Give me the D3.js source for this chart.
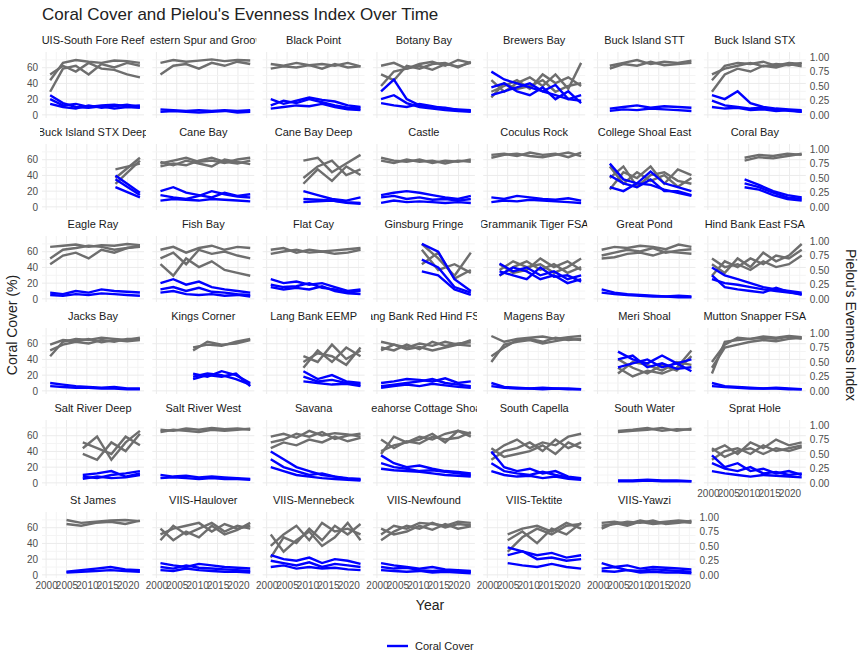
<!DOCTYPE html>
<html><head><meta charset="utf-8">
<script src="https://cdn.jsdelivr.net/npm/d3@7"></script>
<style>body{margin:0;background:#fff;font-family:"Liberation Sans",Arial,sans-serif}</style>
</head><body>
<script>
// Facet names, in panel order
const siteNames = ["UIS-South Fore Reef","Western Spur and Groove","Black Point","Botany Bay","Brewers Bay","Buck Island STT","Buck Island STX",
"Buck Island STX Deep","Cane Bay","Cane Bay Deep","Castle","Coculus Rock","College Shoal East","Coral Bay",
"Eagle Ray","Fish Bay","Flat Cay","Ginsburg Fringe","Grammanik Tiger FSA","Great Pond","Hind Bank East FSA",
"Jacks Bay","Kings Corner","Lang Bank EEMP","Lang Bank Red Hind FSA","Magens Bay","Meri Shoal","Mutton Snapper FSA",
"Salt River Deep","Salt River West","Savana","Seahorse Cottage Shoal","South Capella","South Water","Sprat Hole",
"St James","VIIS-Haulover","VIIS-Mennebeck","VIIS-Newfound","VIIS-Tektite","VIIS-Yawzi"];
const startYears = [2001,2001,2001,2001,2001,2003,2001, 2017,2001,2009,2001,2001,2003,2009,
2001,2001,2001,2011,2003,2001,2001, 2001,2009,2009,2001,2001,2005,2001,
2009,2001,2001,2001,2001,2005,2001, 2005,2001,2001,2001,2005,2001];
// Coral cover (%) per transect, spread evenly from start year to 2023
const coralSeries = [
["20 12 14 10 12 13 11 12","14 10 8 12 9 11 13 10","25 15 10 9 11 8 10 9"],
["7 6 5 6 5 6 5 6","4 5 4 3 4 5 3 4"],
["20 14 18 22 19 17 12 10","12 18 15 20 16 12 9 8","8 10 12 11 14 10 7 6"],
["30 45 20 12 10 9 6 5","20 25 15 10 8 6 5 4","15 12 10 14 11 8 7 6"],
["55 45 40 35 30 38 20 25","35 40 30 25 35 20 30 15","25 30 35 40 30 25 20 18"],
["8 10 12 9 11 10 9","5 7 6 8 7 6 5"],
["25 20 30 15 10 8 7 6","18 12 10 8 9 7 5 4","10 8 9 6 7 5 6 4"],
["35 15","25 12","40 18"],
["20 25 18 15 12 18 14 16","15 12 10 14 20 16 13 12","8 10 9 8 10 9 8 7"],
["20 15 10 8 12","10 9 8 6 5","6 7 8 5 4"],
["15 18 20 18 15 12 10 14","12 14 10 12 9 10 8 10","5 8 6 7 6 5 6 5"],
["12 10 14 12 10 9 11 8","6 8 7 9 8 7 6 5"],
["55 35 30 45 30 25 20","40 30 25 35 20 20 15","25 20 30 28 22 18 14"],
["35 28 20 15 12","30 25 18 12 10","25 22 15 10 8"],
["8 6 10 8 12 10 9 8","5 4 6 5 7 6 5 4"],
["20 25 18 22 15 12 10 8","12 15 10 14 9 8 6 5","8 10 6 5 6 4 5 3"],
["25 20 22 18 20 15 10 12","18 15 16 20 14 12 8 10","15 12 14 12 16 10 7 6"],
["70 60 25 10","50 40 15 8","35 30 12 5"],
["45 35 40 30 35 25 30","35 30 25 40 28 30 22","30 40 35 25 30 20 25"],
["12 8 6 5 4 3 4 3","8 6 5 4 3 3 2 2"],
["40 30 25 20 15 12 10 8","25 20 18 15 12 10 8 6","30 15 12 10 8 14 9 5"],
["10 8 6 5 4 5 3 3","6 5 4 4 3 3 2 2"],
["22 18 25 20 10","18 22 20 15 8","15 20 18 22 6"],
["25 15 20 12 10","18 12 14 10 8","12 10 8 9 6"],
["10 12 15 14 12 16 10 12","6 8 10 12 15 10 8 6","4 6 8 6 9 7 5 4"],
["10 5 4 3 4 3 3 2","6 4 3 3 2 3 2 2"],
["50 40 35 45 35 40","40 45 30 35 28 30","30 35 40 30 35 25"],
["10 6 5 4 3 4 3 2","6 5 4 3 3 3 2 2"],
["10 12 15 8 12","8 6 10 12 15","5 8 6 7 10"],
["10 8 9 7 8 7 6 5","6 7 6 5 6 5 5 4"],
["40 30 20 15 10 8 5 4","30 20 15 10 12 8 6 5","20 15 10 8 6 5 4 3"],
["35 25 20 22 18 15 14 12","25 20 18 15 16 14 12 10","18 16 15 14 12 10 9 8"],
["40 20 15 18 12 15 8 6","25 15 12 10 14 10 7 5","15 10 8 9 6 8 5 4"],
["3 3 4 3 3 2","2 2 3 2 2 2"],
["35 20 25 15 18 12 15 10","25 18 15 20 12 14 10 12","15 12 10 8 10 9 8 7"],
["4 6 8 10 7 6","3 4 5 6 5 4"],
["15 12 10 14 12 10 9 8","10 8 12 9 8 7 6 5","6 5 8 6 5 4 4 3"],
["25 20 18 22 15 20 18 14","18 15 12 16 10 14 12 10","10 12 8 10 8 9 7 6"],
["15 12 10 8 10 7 6 5","10 8 9 6 5 6 4 4","6 5 4 5 3 4 3 2"],
["35 30 25 28 22 25","25 30 20 22 18 20","15 12 10 14 10 8"],
["15 10 12 8 10 9 8 7","8 10 6 5 7 6 5 4","5 4 6 3 4 3 3 2"]
];
// Pielou's evenness (x100) per transect
const evenSeries = [
["60 90 95 92 90 94 93 90","40 80 85 70 88 82 90 85","70 85 75 90 80 78 70 65"],
["90 95 92 94 96 93 95 94","70 85 88 80 90 85 92 88"],
["88 85 90 86 88 85 90 84","80 84 82 86 80 88 82 84"],
["85 90 80 88 92 85 95 90","70 60 85 80 88 90 82 92","50 75 80 85 78 88 84 90"],
["40 50 60 45 70 55 65 50","60 40 55 65 50 70 45 90","30 55 45 50 60 40 50 55"],
["85 90 95 88 92 90 94","80 88 85 92 86 88 90"],
["60 85 90 88 92 85 90 88","70 80 85 90 84 88 86 90","40 70 80 75 85 82 88 84"],
["50 85","40 80","65 75"],
["75 80 85 78 80 76 82 85","70 75 72 80 85 78 75 80","78 72 80 75 70 82 78 74"],
["80 85 60 75 90","50 70 80 55 65","40 65 45 70 55"],
["85 80 78 82 76 80 78 82","80 76 82 78 80 75 80 78"],
["90 92 88 94 90 92 86 94","85 90 92 88 86 90 94 88"],
["30 60 50 70 40 65 55","70 40 60 45 55 35 50","50 70 35 55 60 45 40"],
["85 90 88 92 90","80 86 84 88 92"],
["90 92 94 90 93 92 95 93","70 85 88 92 90 85 88 90","60 75 80 70 85 80 88 92"],
["85 90 80 88 92 85 90 88","70 80 60 85 78 82 75 70","60 40 70 55 65 50 45 40"],
["85 88 80 85 82 84 86 88","78 82 85 80 82 78 80 85"],
["95 70 40 80","85 50 60 45","60 80 35 50"],
["50 65 55 60 45 55 70","40 55 65 50 60 45 55","60 45 50 70 55 65 50"],
["85 90 88 92 90 86 94 90","75 80 85 82 88 80 84 86","70 72 78 80 75 82 80 78"],
["60 45 70 55 80 65 75 95","40 65 55 70 60 75 70 85","70 55 60 50 65 55 60 75"],
["60 85 90 88 92 90 88 92","70 80 85 82 88 85 90 90","80 88 86 90 84 88 86 88"],
["75 80 78 85 90","70 85 80 82 88"],
["40 70 50 75 60","60 50 80 55 70","50 65 60 45 75"],
["85 80 75 82 78 85 80 88","75 70 80 72 85 78 82 84","70 80 72 76 70 75 80 78"],
["95 85 90 92 94 90 93 95","60 75 88 90 85 92 88 90","50 80 85 88 82 86 90 88"],
["40 25 35 30 40 70","55 40 30 45 35 60","30 50 45 35 50 45"],
["50 80 92 90 94 92 95 93","30 85 88 90 92 90 94 90","40 75 80 85 88 86 90 92"],
["60 80 40 70 90","50 40 70 55 85","70 60 50 80 65"],
["92 90 94 92 95 93 94 92","88 92 90 88 92 90 92 94"],
["80 85 78 90 82 86 84 80","70 75 85 80 88 76 82 85","60 70 65 75 70 80 72 78"],
["55 65 70 80 75 85 90 80","50 80 70 75 85 70 90 85","75 60 72 68 80 75 78 88"],
["50 65 75 60 70 65 80 85","40 55 60 70 55 75 60 70","60 45 50 55 65 50 70 60"],
["90 92 95 90 93 92","88 90 92 95 90 94"],
["55 65 50 70 60 75 65 70","40 55 60 50 65 55 60 65","60 45 55 60 50 60 55 62"],
["95 90 92 94 95 93","88 85 90 92 88 94"],
["70 80 85 90 75 88 80 85","60 85 70 80 90 75 85 80","80 60 75 65 85 70 78 90"],
["50 70 85 60 90 75 80 70","30 65 55 80 60 85 70 88","70 40 60 75 50 65 90 60"],
["70 85 80 90 88 85 92 90","60 75 85 80 90 82 88 86","80 70 75 85 78 88 80 84"],
["70 80 85 75 90 80","40 65 80 70 85 88","60 75 55 80 70 90"],
["90 92 88 94 90 92 94 92","85 88 92 90 94 88 90 94","80 90 85 92 88 90 92 90"]
];
const xTicks = [2000,2005,2010,2015,2020];
const yTicks = [0,20,40,60];
const evenTicks = [0,0.25,0.5,0.75,1];
const evenMax = 73.5; // coral % that matches evenness 1.0

const W = 864, H = 672, ncol = 7;
const x0 = 42, pw = 102, colStep = 110.3, y0 = 52, ph = 66, rowStep = 92;
const svg = d3.select("body").append("svg").attr("width", W).attr("height", H);

const x = d3.scaleLinear().domain([1999, 2024]).range([0, pw]);
const y = d3.scaleLinear().domain([-4, 80]).range([ph, 0]);
const yE = d3.scaleLinear().domain([0, 1]).range([y(0), y(evenMax)]);
const line = d3.line().x(d => x(d[0])).y(d => d[1]);

svg.append("text").attr("x", 42).attr("y", 20).attr("font-size", 17).attr("fill", "#222")
  .text("Coral Cover and Pielou's Evenness Index Over Time");

siteNames.forEach((name, i) => {
  const r = Math.floor(i / ncol), c = i % ncol;
  const g = svg.append("g").attr("transform", `translate(${x0 + c * colStep},${y0 + r * rowStep})`);
  const clipId = "c" + i;
  g.append("clipPath").attr("id", clipId).append("rect").attr("x", -2).attr("y", -30).attr("width", pw + 4).attr("height", 30);
  g.append("text").attr("x", pw / 2).attr("y", -8).attr("text-anchor", "middle").attr("font-size", 11)
    .attr("fill", "#1a1a1a").attr("clip-path", `url(#${clipId})`).text(name);
  // grid
  const minor = [2002.5, 2007.5, 2012.5, 2017.5, 2022.5];
  g.selectAll(".gx").data(xTicks).join("line").attr("x1", d => x(d)).attr("x2", d => x(d))
    .attr("y1", 0).attr("y2", ph).attr("stroke", "#ebebeb");
  g.selectAll(".gxm").data(minor).join("line").attr("x1", d => x(d)).attr("x2", d => x(d))
    .attr("y1", 0).attr("y2", ph).attr("stroke", "#f4f4f4");
  g.selectAll(".gy").data(yTicks).join("line").attr("x1", 0).attr("x2", pw)
    .attr("y1", d => y(d)).attr("y2", d => y(d)).attr("stroke", "#ebebeb");
  g.selectAll(".gym").data([10, 30, 50, 70]).join("line").attr("x1", 0).attr("x2", pw)
    .attr("y1", d => y(d)).attr("y2", d => y(d)).attr("stroke", "#f4f4f4");

  const start = startYears[i];
  const toPts = (s, f) => {
    const v = s.split(" ").map(Number);
    return v.map((d, k) => [start + k * (2023 - start) / (v.length - 1), f(d)]);
  };
  evenSeries[i].forEach(s => g.append("path").attr("d", line(toPts(s, d => yE(d / 100))))
    .attr("fill", "none").attr("stroke", "#6e6e6e").attr("stroke-width", 2.4));
  coralSeries[i].forEach(s => g.append("path").attr("d", line(toPts(s, d => y(d))))
    .attr("fill", "none").attr("stroke", "#0000ff").attr("stroke-width", 2.4));

  const axisTxt = sel => sel.call(s => s.select(".domain").remove()).call(s => s.selectAll("line").remove())
    .selectAll("text").attr("fill", "#4d4d4d").attr("font-size", 10).attr("font-family", "Liberation Sans, Arial");
  if (c === 0) g.append("g").call(d3.axisLeft(y).tickValues(yTicks).tickSize(0).tickPadding(4)).call(axisTxt);
  const lastInRow = (c === ncol - 1) || i === siteNames.length - 1;
  if (lastInRow) g.append("g").attr("transform", `translate(${pw},0)`)
    .call(d3.axisRight(yE).tickValues(evenTicks).tickFormat(d3.format(".2f")).tickSize(0).tickPadding(4)).call(axisTxt);
  const bottom = i + ncol >= siteNames.length;
  if (bottom) g.append("g").attr("transform", `translate(0,${ph})`)
    .call(d3.axisBottom(x).tickValues(xTicks).tickFormat(d3.format("d")).tickSize(0).tickPadding(4)).call(axisTxt);
});

svg.append("text").attr("transform", "translate(17,325) rotate(-90)").attr("text-anchor", "middle")
  .attr("font-size", 14).attr("fill", "#222").text("Coral Cover (%)");
svg.append("text").attr("transform", "translate(846,325) rotate(90)").attr("text-anchor", "middle")
  .attr("font-size", 14).attr("fill", "#222").text("Pielou's Evenness Index");
svg.append("text").attr("x", 430).attr("y", 610).attr("text-anchor", "middle")
  .attr("font-size", 14).attr("fill", "#222").text("Year");
svg.append("line").attr("x1", 387).attr("x2", 408).attr("y1", 646).attr("y2", 646)
  .attr("stroke", "#0000ff").attr("stroke-width", 2.4);
svg.append("text").attr("x", 415).attr("y", 650).attr("font-size", 11).attr("fill", "#222").text("Coral Cover");
</script>
</body></html>
